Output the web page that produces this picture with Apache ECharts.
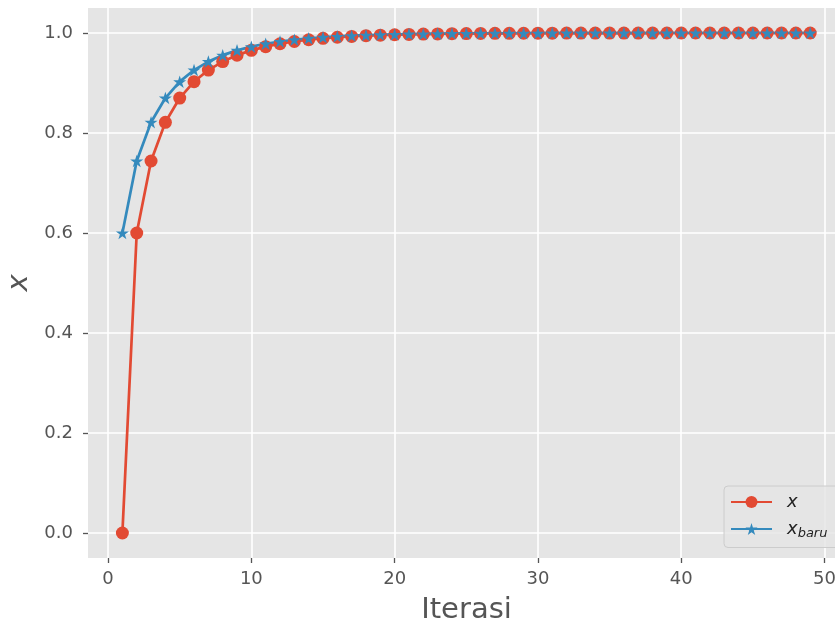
<!DOCTYPE html>
<html>
<head>
<meta charset="utf-8">
<script src="https://cdn.jsdelivr.net/npm/echarts@6/dist/echarts.min.js"></script>
<style>html,body{margin:0;padding:0;background:#fff;}#c{width:835px;height:623px;}</style>
</head>
<body>
<div id="c"></div>
<script>
const iterasi = [];
for (let i = 1; i <= 49; i++) iterasi.push(i);
const xValues = [0, 0.6, 0.744, 0.8214, 0.8699, 0.9027, 0.9259, 0.9429, 0.9557, 0.9653,
  0.9727, 0.9785, 0.9830, 0.9865, 0.9893, 0.9915, 0.9932, 0.9946, 0.9957, 0.9965,
  0.9972, 0.9978, 0.9982, 0.9986, 0.9989, 0.9991, 0.9993, 0.9994, 0.9995, 0.9996,
  0.9997, 0.9998, 0.9998, 0.9998, 0.9999, 0.9999, 0.9999, 0.9999, 1.0, 1.0,
  1.0, 1.0, 1.0, 1.0, 1.0, 1.0, 1.0, 1.0, 1.0];
const xBaruValues = [0.6, 0.744, 0.8214, 0.8699, 0.9027, 0.9259, 0.9429, 0.9557, 0.9653,
  0.9727, 0.9785, 0.9830, 0.9865, 0.9893, 0.9915, 0.9932, 0.9946, 0.9957, 0.9965,
  0.9972, 0.9978, 0.9982, 0.9986, 0.9989, 0.9991, 0.9993, 0.9994, 0.9995, 0.9996,
  0.9997, 0.9998, 0.9998, 0.9998, 0.9999, 0.9999, 0.9999, 0.9999, 1.0, 1.0,
  1.0, 1.0, 1.0, 1.0, 1.0, 1.0, 1.0, 1.0, 1.0, 1.0];
const xTicks = [0, 10, 20, 30, 40, 50];
const yTicks = [0, 0.2, 0.4, 0.6, 0.8, 1.0];

const STAR = 'path://M100,0 L122.45,69.1 L195.1,69.1 L136.3,111.8 L158.8,180.9 L100,138.2 L41.2,180.9 L63.7,111.8 L4.9,69.1 L77.55,69.1 Z';
const FONT = 'DejaVu Sans';

const chart = echarts.init(document.getElementById('c'), null, {renderer: 'canvas'});
chart.setOption({
  animation: false,
  backgroundColor: '#ffffff',
  grid: {left: 88, top: 8, right: 0, bottom: 65, show: true, backgroundColor: '#E5E5E5', borderWidth: 0,
    outerBoundsMode: 'none', containLabel: false},
  xAxis: {
    type: 'value', min: -1.4, max: 50.73,
    name: 'Iterasi', nameLocation: 'middle', nameGap: 38,
    nameTextStyle: {fontFamily: FONT, fontSize: 29, color: '#555555', padding: [0, 0, 0, 10]},
    axisLine: {show: false, onZero: false},
    axisTick: {show: true, length: 5, inside: false, customValues: xTicks, lineStyle: {color: '#555555', width: 1.3}},
    axisLabel: {customValues: xTicks, fontFamily: FONT, fontSize: 18, color: '#555555', margin: 12,
      formatter: v => String(v)},
    splitLine: {show: true, lineStyle: {color: '#ffffff', width: 1.6}}
  },
  yAxis: {
    type: 'value', min: -0.05, max: 1.05,
    name: 'x', nameLocation: 'middle', nameGap: 53, nameRotate: 90,
    nameTextStyle: {fontFamily: FONT, fontSize: 29, color: '#555555', fontStyle: 'italic'},
    axisLine: {show: false, onZero: false},
    axisTick: {show: true, length: 5, inside: false, customValues: yTicks, lineStyle: {color: '#555555', width: 1.3}},
    axisLabel: {customValues: yTicks, fontFamily: FONT, fontSize: 18, color: '#555555', margin: 15,
      formatter: v => v.toFixed(1)},
    splitLine: {show: true, lineStyle: {color: '#ffffff', width: 1.6}}
  },
  legend: {
    orient: 'vertical', left: 724, top: 486,
    padding: [7, 30, 7, 6], itemGap: 9, itemWidth: 41, itemHeight: 15,
    backgroundColor: 'rgba(229,229,229,0.8)', borderColor: '#cccccc', borderWidth: 1, borderRadius: 4,
    data: ['x', 'x_baru'],
    formatter: name => name === 'x' ? '{i|x}' : '{i|x}{s|baru}',
    textStyle: {
      color: '#222222', fontFamily: FONT, fontSize: 18,
      rich: {
        i: {fontFamily: FONT, fontStyle: 'italic', fontSize: 18, color: '#222222', padding: [0, 0, 0, 10]},
        s: {fontFamily: FONT, fontStyle: 'italic', fontSize: 13, color: '#222222', padding: [10, 0, 0, 0]}
      }
    }
  },
  series: [
    {
      name: 'x', type: 'line',
      data: iterasi.map((it, i) => [it, xValues[i]]),
      symbol: 'circle', symbolSize: 13, showAllSymbol: true, clip: false,
      lineStyle: {color: '#E24A33', width: 2.7},
      itemStyle: {color: '#E24A33'},
      emphasis: {disabled: true}
    },
    {
      name: 'x_baru', type: 'line',
      data: iterasi.map((it, i) => [it, xBaruValues[i]]),
      symbol: STAR, symbolSize: [13, 12.5], showAllSymbol: true, clip: false,
      lineStyle: {color: '#348ABD', width: 2.7},
      itemStyle: {color: '#348ABD'},
      emphasis: {disabled: true}
    }
  ]
});
</script>
</body>
</html>
